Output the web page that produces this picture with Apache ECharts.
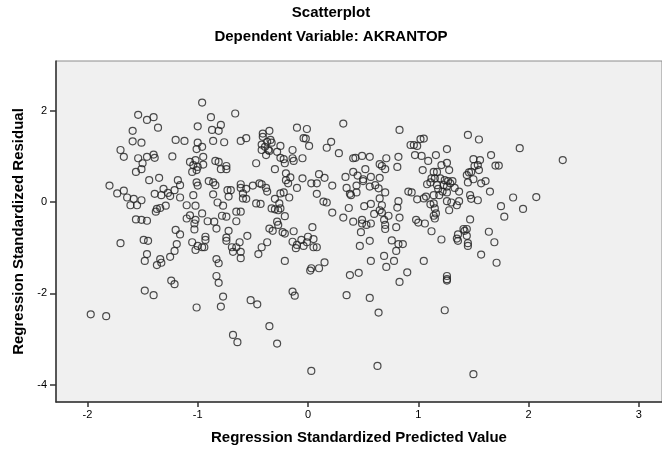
<!DOCTYPE html>
<html>
<head>
<meta charset="utf-8">
<script src="https://cdn.jsdelivr.net/npm/echarts@6/dist/echarts.min.js"></script>
<style>
  html, body { margin: 0; padding: 0; background: #fff; }
  #main { width: 662px; height: 455px; }
</style>
</head>
<body>
<div id="main"></div>
<script>
var predicted = [
  -0.96, -1.54, -1.46, -1.40, -1.00, -1.36, -1.59, -1.20, -1.12, -1.59, -1.51, -1.00, -1.01, -0.96, -1.70, -1.67,
  -1.54, -1.46, -1.40, -1.39, -1.23, -1.50, -1.07, -1.02, -1.04, -1.00, -1.51, -1.56, -1.05, -1.01, -1.35, -1.44,
  -1.18, -1.16, -1.01, -1.00, -1.80, -1.67, -1.73, -1.31, -1.21, -1.39, -1.33, -1.27, -1.25, -1.16, -1.04, -1.64,
  -1.58, -1.51, -1.61, -1.55, -1.29, -1.10, -1.02, -1.37, -1.34, -1.38, -1.07, -1.10, -1.02, -0.96, -1.56, -1.51,
  -1.46, -1.03, -1.20, -1.16, -1.03, -1.49, -1.45, -1.70, -1.19, -1.05, -1.46, -1.48, -1.34, -1.33, -1.37, -1.25,
  -1.21, -1.00, -1.02, -0.96, -1.24, -1.21, -1.48, -1.40, -1.01, -1.97, -1.83,
  -0.66, -0.88, -0.79, -0.81, -0.87, -0.86, -0.76, -0.61, -0.56, -0.35, -0.41, -0.41, -0.37, -0.34, -0.33, -0.42,
  -0.39, -0.25, -0.10, -0.01, -0.04, -0.02, 0.01, -0.95, -0.42, -0.36, -0.38, -0.35, -0.28, -0.14, -0.25, -0.22,
  -0.14, -0.13, -0.05, -0.21, -0.47, -0.30, -0.84, -0.81, -0.74, -0.74, -0.79, -0.95, -0.20, -0.16, -0.20, -0.18,
  -0.05, -0.10, 0.03, -0.90, -0.86, -0.84, -0.61, -0.61, -0.56, -0.50, -0.44, -0.42, -0.38, -0.37, -0.73, -0.70,
  -0.72, -0.86, -0.59, -0.59, -0.56, -0.25, -0.22, -0.17, -0.30, -0.82, -0.77, -0.47, -0.43, -0.26, -0.25, -0.27,
  -0.33, -0.30, -0.65, -0.61, -0.21, -0.78, -0.74, -0.91, -0.85, -0.65, -0.28, -0.27, -0.83, -0.35, -0.32, -0.23,
  -0.21, -0.13, 0.04, -0.72, -0.55, -0.93, -0.93, -0.74, -0.74, -0.62, -0.37, -0.14, -0.06, 0.00, -0.01,
  -0.94, -0.69, -0.68, -0.65, -0.61, -0.61, -0.45, -0.42, -0.83, -0.81, -0.21, -0.10, -0.04, -0.11, 0.05, 0.03,
  0.02, -0.83, -0.81, -0.14, -0.12, -0.77, -0.79, -0.52, -0.46, -0.35, -0.68, -0.64, -0.28, 0.03,
  0.32, 0.83, 0.21, 0.17, 0.28, 0.41, 0.43, 0.49, 0.56, 0.93, 0.96, 0.99, 1.02, 1.05, 0.71, 0.82,
  0.97, 1.03, 0.65, 0.67, 0.70, 0.81, 1.04, 0.52, 0.41, 0.45, 0.10, 0.15, 0.34, 0.50, 0.50, 0.57,
  0.65, 0.08, 0.22, 0.35, 0.44, 0.56, 0.61, 0.64, 0.44, 0.39, 0.38, 0.70, 0.91, 0.94, 0.08, 0.65,
  0.99, 0.82, 1.05, 0.14, 0.17, 0.37, 0.51, 0.57, 0.67, 0.65, 0.67, 0.60, 0.81, 0.22, 0.32, 0.73,
  0.83, 0.41, 0.49, 0.49, 0.53, 0.57, 0.69, 0.70, 0.70, 0.98, 1.00, 0.80, 1.06, 0.05, 0.48, 0.56,
  0.76, 0.08, 0.47, 0.82, 0.86, 0.80, 0.69, 0.78, 0.71, 0.57, 0.15, 0.10, 0.38, 0.46, 0.90, 0.83,
  1.05, 0.35, 0.56, 0.64, 0.63,
  1.45, 1.55, 1.92, 2.31, 1.26, 1.16, 1.09, 1.50, 1.56, 1.66, 1.26, 1.21, 1.51, 1.54, 1.70, 1.73,
  1.14, 1.17, 1.28, 1.55, 1.46, 1.48, 1.44, 1.12, 1.15, 1.20, 1.24, 1.27, 1.31, 1.08, 1.11, 1.17,
  1.23, 1.29, 1.26, 1.45, 1.50, 1.57, 1.61, 1.33, 1.37, 1.65, 1.18, 1.22, 1.26, 1.14, 1.19, 1.07,
  1.47, 1.48, 1.54, 1.86, 2.07, 1.26, 1.30, 1.37, 1.35, 1.11, 1.14, 1.15, 1.28, 1.75, 1.95, 1.78,
  1.14, 1.15, 1.16, 1.47, 1.12, 1.41, 1.44, 1.42, 1.64, 1.36, 1.35, 1.36, 1.44, 1.21, 1.69, 1.45,
  1.45, 1.57, 1.71, 1.26, 1.26, 1.26, 1.24, 1.50
];
var residual = [
  2.18, 1.91, 1.80, 1.86, 1.66, 1.63, 1.56, 1.36, 1.34, 1.33, 1.30, 1.30, 1.16, 1.21, 1.14, 0.99,
  0.96, 0.99, 1.04, 0.97, 1.00, 0.85, 0.88, 0.92, 0.81, 0.77, 0.72, 0.66, 0.66, 0.70, 0.53, 0.48,
  0.48, 0.37, 0.43, 0.36, 0.36, 0.25, 0.19, 0.29, 0.26, 0.18, 0.15, 0.20, 0.13, 0.10, 0.15, 0.10,
  0.07, 0.04, -0.07, -0.07, -0.08, -0.07, -0.08, -0.15, -0.13, -0.21, -0.29, -0.36, -0.39, -0.25, -0.38, -0.39,
  -0.41, -0.47, -0.61, -0.71, -0.60, -0.83, -0.85, -0.90, -0.92, -0.88, -1.14, -1.29, -1.25, -1.33, -1.38, -1.20,
  -1.07, -0.96, -1.05, -0.99, -1.72, -1.80, -1.94, -2.04, -2.31, -2.46, -2.50,
  1.94, 1.86, 1.69, 1.56, 1.58, 1.34, 1.31, 1.34, 1.40, 1.56, 1.50, 1.43, 1.32, 1.36, 1.30, 1.26,
  1.21, 1.23, 1.63, 1.60, 1.40, 1.39, 1.23, 0.99, 1.14, 1.14, 1.03, 1.12, 1.10, 1.14, 0.97, 0.94,
  0.96, 0.90, 0.96, 0.85, 0.85, 0.72, 0.90, 0.88, 0.79, 0.72, 0.72, 0.82, 0.63, 0.54, 0.48, 0.41,
  0.52, 0.31, 0.41, 0.46, 0.43, 0.37, 0.39, 0.31, 0.29, 0.36, 0.41, 0.39, 0.31, 0.23, 0.26, 0.26,
  0.12, 0.17, 0.19, 0.08, 0.07, 0.19, 0.21, 0.10, 0.07, -0.01, -0.08, -0.03, -0.04, -0.03, -0.14, -0.18,
  -0.14, -0.16, -0.21, -0.21, -0.31, -0.30, -0.32, -0.42, -0.43, -0.42, -0.43, -0.50, -0.58, -0.58, -0.63, -0.66,
  -0.69, -0.64, -0.55, -0.63, -0.74, -0.76, -0.83, -0.78, -0.85, -0.88, -0.88, -0.87, -0.83, -0.76, -0.88,
  -0.99, -0.99, -1.09, -0.99, -1.09, -1.23, -1.14, -0.99, -1.25, -1.34, -1.29, -0.94, -0.96, -1.01, -0.99, -1.45,
  -1.50, -1.62, -1.77, -1.96, -2.05, -2.07, -2.29, -2.15, -2.24, -2.72, -2.91, -3.07, -3.10, -3.70,
  1.72, 1.58, 1.32, 1.19, 1.07, 0.96, 0.97, 1.01, 0.99, 1.25, 1.25, 1.23, 1.38, 1.39, 0.96, 0.99,
  1.03, 1.01, 0.83, 0.79, 0.72, 0.77, 0.70, 0.72, 0.66, 0.58, 0.61, 0.53, 0.55, 0.50, 0.46, 0.55,
  0.53, 0.41, 0.36, 0.31, 0.36, 0.34, 0.37, 0.30, 0.21, 0.15, 0.18, 0.21, 0.23, 0.21, 0.18, 0.08,
  0.06, 0.02, 0.08, 0.01, -0.01, -0.13, -0.09, -0.04, -0.07, -0.18, -0.23, -0.26, -0.12, -0.23, -0.34, -0.30,
  -0.34, -0.43, -0.39, -0.47, -0.50, -0.47, -0.39, -0.50, -0.59, -0.39, -0.45, -0.55, -0.47, -0.81, -0.66, -0.85,
  -0.84, -0.99, -0.96, -0.92, -0.92, -1.07, -1.18, -1.29, -1.42, -1.29, -1.32, -1.45, -1.60, -1.55, -1.54, -1.75,
  -1.29, -2.04, -2.10, -2.42, -3.59,
  1.47, 1.37, 1.18, 0.92, 1.16, 1.03, 0.90, 0.94, 0.92, 1.03, 0.86, 0.81, 0.79, 0.81, 0.80, 0.80,
  0.66, 0.66, 0.70, 0.70, 0.65, 0.66, 0.59, 0.52, 0.52, 0.52, 0.48, 0.46, 0.46, 0.39, 0.43, 0.37,
  0.37, 0.41, 0.34, 0.43, 0.50, 0.41, 0.46, 0.31, 0.23, 0.23, 0.29, 0.23, 0.21, 0.15, 0.15, 0.12,
  0.15, 0.07, 0.04, 0.10, 0.11, 0.02, -0.01, 0.02, -0.07, -0.05, -0.03, -0.14, -0.18, -0.09, -0.15, -0.32,
  -0.30, -0.36, -0.25, -0.38, -0.64, -0.59, -0.59, -0.63, -0.65, -0.71, -0.80, -0.85, -0.74, -0.82, -0.88, -0.90,
  -0.96, -1.15, -1.33, -1.62, -1.69, -1.72, -2.37, -3.77
];

var xTicks = [-2, -1, 0, 1, 2, 3];
var yTicks = [-4, -2, 0, 2];

var points = [];
for (var i = 0; i < predicted.length; i++) {
    points.push([predicted[i], residual[i]]);
}

var myChart = echarts.init(document.getElementById('main'));
var font = 'Liberation Sans, Arial, sans-serif';

var option = {
    animation: false,
    backgroundColor: '#ffffff',
    title: [
        {
            text: 'Scatterplot',
            left: 'center',
            top: 0,
            textStyle: { fontFamily: font, fontSize: 15, fontWeight: 'bold', color: '#000' }
        },
        {
            text: 'Dependent Variable: AKRANTOP',
            left: 'center',
            top: 24,
            textStyle: { fontFamily: font, fontSize: 15, fontWeight: 'bold', color: '#000' }
        }
    ],
    grid: {
        left: 56,
        right: 0,
        top: 61,
        bottom: 53,
        show: true,
        backgroundColor: '#f0f0f0',
        borderColor: '#8c8c8c',
        borderWidth: 1
    },
    xAxis: {
        type: 'value',
        min: -2.285,
        max: 3.21,
        name: 'Regression Standardized Predicted Value',
        nameLocation: 'middle',
        nameGap: 28,
        nameTextStyle: { fontFamily: font, fontSize: 15, fontWeight: 'bold', color: '#000' },
        splitLine: { show: false },
        axisLine: { onZero: false, lineStyle: { color: '#333', width: 1.5 } },
        axisTick: { customValues: xTicks, length: 5, lineStyle: { color: '#333', width: 1.5 } },
        axisLabel: { customValues: xTicks, fontFamily: font, fontSize: 11, color: '#000', margin: 7 }
    },
    yAxis: {
        type: 'value',
        min: -4.38,
        max: 3.09,
        name: 'Regression Standardized Residual',
        nameLocation: 'middle',
        nameRotate: 90,
        nameGap: 30,
        nameTextStyle: { fontFamily: font, fontSize: 15, fontWeight: 'bold', color: '#000' },
        splitLine: { show: false },
        axisLine: { onZero: false, lineStyle: { color: '#333', width: 1.5 } },
        axisTick: { customValues: yTicks, length: 6, lineStyle: { color: '#333', width: 1.5 } },
        axisLabel: { customValues: yTicks, fontFamily: font, fontSize: 11, color: '#000', margin: 9 }
    },
    series: [
        {
            type: 'scatter',
            symbol: 'circle',
            symbolSize: 7,
            itemStyle: {
                color: 'rgba(0,0,0,0)',
                borderColor: '#222',
                borderWidth: 1.2
            },
            data: points
        }
    ]
};

myChart.setOption(option);
</script>
</body>
</html>
